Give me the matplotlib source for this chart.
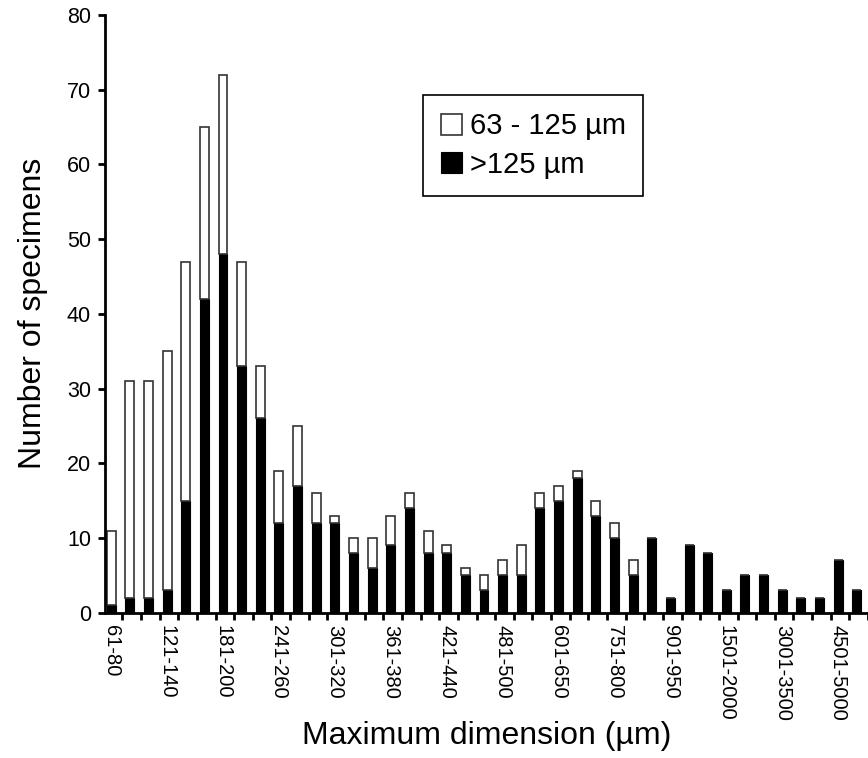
import matplotlib
matplotlib.use("Agg")
import matplotlib.pyplot as plt
import numpy as np

plt.rcParams['font.family'] = ['Liberation Sans', 'DejaVu Sans']

# size classes (maximum dimension, µm)
bins = ['61-80', '81-100', '101-120', '121-140', '141-160', '161-180',
        '181-200', '201-220', '221-240', '241-260', '261-280', '281-300',
        '301-320', '321-340', '341-360', '361-380', '381-400', '401-420',
        '421-440', '441-460', '461-480', '481-500', '501-550', '551-600',
        '601-650', '651-700', '701-750', '751-800', '801-850', '851-900',
        '901-950', '951-1000', '1001-1500', '1501-2000', '2001-2500',
        '2501-3000', '3001-3500', '3501-4000', '4001-4500', '4501-5000',
        '>5000']

# specimens from the >125 µm fraction
large = [1, 2, 2, 3, 15, 42, 48, 33, 26, 12, 17, 12, 12, 8, 6, 9, 14, 8, 8,
         5, 3, 5, 5, 14, 15, 18, 13, 10, 5, 10, 2, 9, 8, 3, 5, 5, 3, 2, 2, 7, 3]
# specimens from the 63-125 µm fraction
small = [10, 29, 29, 32, 32, 23, 24, 14, 7, 7, 8, 4, 1, 2, 4, 4, 2, 3, 1,
         1, 2, 2, 4, 2, 2, 1, 2, 2, 2, 0, 0, 0, 0, 0, 0, 0, 0, 0, 0, 0, 0]

x = np.arange(len(bins))

fig = plt.figure(figsize=(8.68, 7.58), dpi=100)
ax = fig.add_axes([105 / 868, 0.1917, 763 / 868, 0.7885])

w = 0.48
b1 = ax.bar(x, large, w, color='black', edgecolor='black', linewidth=0.8,
            label='>125 µm')
b2 = ax.bar(x, small, w, bottom=large, color='white', edgecolor='#333333',
            linewidth=1.2, label='63 - 125 µm')

ax.set_xlim(-0.33, 40.36)
ax.set_ylim(0, 80)

for s in ['top', 'right']:
    ax.spines[s].set_visible(False)
ax.spines['left'].set_linewidth(2)
ax.spines['bottom'].set_linewidth(2)

ax.set_yticks(np.arange(0, 81, 10))
ax.tick_params(axis='y', direction='out', length=5, width=2, pad=5,
               labelsize=15.5)

# tick marks between the bars, labels under every third bar
ax.set_xticks(x + 0.6)
ax.set_xticklabels([])
ax.tick_params(axis='x', which='major', direction='out', length=5, width=2)
ax.set_xticks(x[::3], minor=True)
ax.set_xticklabels(bins[::3], minor=True, rotation=-90, fontsize=14.5,
                   va='top', ha='center')
ax.tick_params(axis='x', which='minor', length=0, pad=9)

ax.set_xlabel('Maximum dimension (µm)', fontsize=23, labelpad=0)
ax.set_ylabel('Number of specimens', fontsize=23, labelpad=14)

leg = ax.legend([b2, b1], ['63 - 125 µm', '>125 µm'], loc='upper left',
                bbox_to_anchor=(423 / 868, 1 - 95 / 758),
                bbox_transform=fig.transFigure, fontsize=21,
                borderaxespad=0, fancybox=False, framealpha=1,
                edgecolor='black', handlelength=0.75, handleheight=0.75,
                handletextpad=0.25, borderpad=0.6, labelspacing=0.35)
leg.get_frame().set_linewidth(1.2)

fig.savefig('out.png', dpi=100)
